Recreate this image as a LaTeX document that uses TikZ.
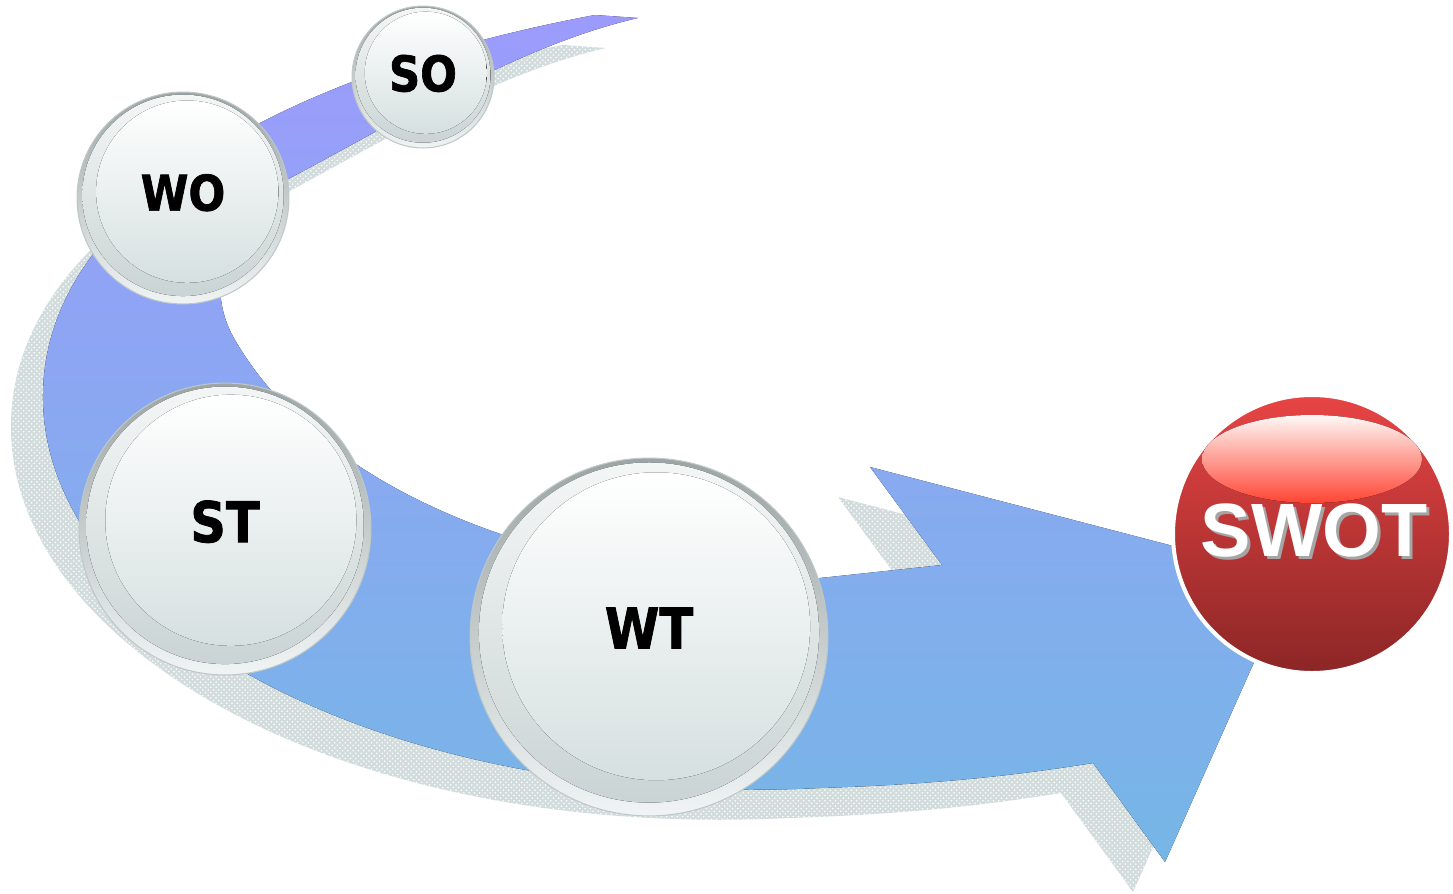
\documentclass[tikz,border=0pt]{standalone}
\usepackage{fontspec}
\setmainfont{Liberation Sans}
\newfontfamily\ballfont{DejaVu Sans}[FakeStretch=0.88, BoldFeatures={FakeBold=1.3}]
\usetikzlibrary{patterns}

\definecolor{arrtop}{RGB}{156,155,252}
\definecolor{arrbot}{RGB}{118,182,230}
\definecolor{shadowc}{RGB}{210,220,221}
\definecolor{rimtop}{RGB}{156,164,164}
\definecolor{rimbot}{RGB}{240,244,244}
\definecolor{rimline}{RGB}{190,200,200}
\definecolor{bodytop}{RGB}{244,246,246}
\definecolor{bodybot}{RGB}{202,212,212}
\definecolor{corebot}{RGB}{214,224,224}
\definecolor{swottop}{RGB}{232,68,68}
\definecolor{swotbot}{RGB}{140,38,38}
\definecolor{glosstop}{RGB}{254,248,246}
\definecolor{glossbot}{RGB}{255,68,51}
\definecolor{swotshad}{RGB}{165,165,165}

\begin{document}
\begin{tikzpicture}
\newlength{\pxu}
\setlength{\pxu}{0.02cm}
\tikzset{x=\pxu, y=-\pxu}

\tikzset{
  shad_s/.style = {fill=shadowc,
    postaction={pattern=crosshatch dots, pattern color=white}},
  arrow_s/.style = {top color=arrtop, bottom color=arrbot},
  ball_s/.style = {circle, inner sep=0pt, top color=rimtop,
    bottom color=rimbot, draw=rimline, line width=0.6pt},
  body_s/.style = {top color=bodytop, bottom color=bodybot},
  core_s/.style = {top color=white, bottom color=corebot},
  lbl_s/.style = {inner sep=0pt, text=black},
  swot_s/.style = {circle, inner sep=0pt, top color=swottop,
    bottom color=swotbot, draw=white, line width=0.08cm},
  gloss_s/.style = {top color=glosstop, bottom color=glossbot},
  swlbl_s/.style = {inner sep=0pt,
    font=\bfseries\fontsize{43}{46}\selectfont}
}
\useasboundingbox (0,0) rectangle (1453,893);

% shadow first, then the arrow itself
\foreach \dx/\dy/\sty in {-32/30/shad_s, 0/0/arrow_s}{
  \fill[\sty, shift={(\dx,\dy)}] (638,18) -- (595,15)
    .. controls (300,70) and (40,200) .. (43,400)
    .. controls (46,620) and (380,810) .. (820,788)
    .. controls (950,784) and (1030,773) .. (1093,763)
    -- (1165,862) -- (1292,577) -- (870,467) -- (942,565)
    -- (820,578)
    .. controls (620,590) and (340,520) .. (235,340)
    .. controls (200,280) and (230,210) .. (292,177)
    .. controls (400,120) and (520,45) .. (638,18) -- cycle;
}

% grey balls
\foreach \nm/\px/\py/\r/\fs/\txt in {so/423/77/71/28/SO, wo/183/198/106/28/WO,
    st/225/529/146/32/ST, wt/649/637/179/32/WT}{
  \node[ball_s, minimum size=\r*0.04cm] (\nm) at (\px,\py) {};
  \fill[body_s] (\px,\py-0.025*\r) circle (0.95*\r);
  \fill[core_s] (\px+0.04*\r,\py-0.06*\r) circle (0.86*\r);
  \node[lbl_s, font=\ballfont\bfseries\fontsize{\fs}{\fs}\selectfont]
    (\nm-t) at (\px,\py-0.05*\r) {\txt};
}

% red ball
\node[swot_s, minimum size=278*0.02cm] (swot) at (1312,534) {};
\fill[gloss_s] (1312,459) ellipse (110 and 44);
\node[swlbl_s, text=swotshad] (swot-s) at (1317,533) {SWOT};
\node[swlbl_s, text=white] (swot-t) at (1314,530) {SWOT};

\end{tikzpicture}
\end{document}
